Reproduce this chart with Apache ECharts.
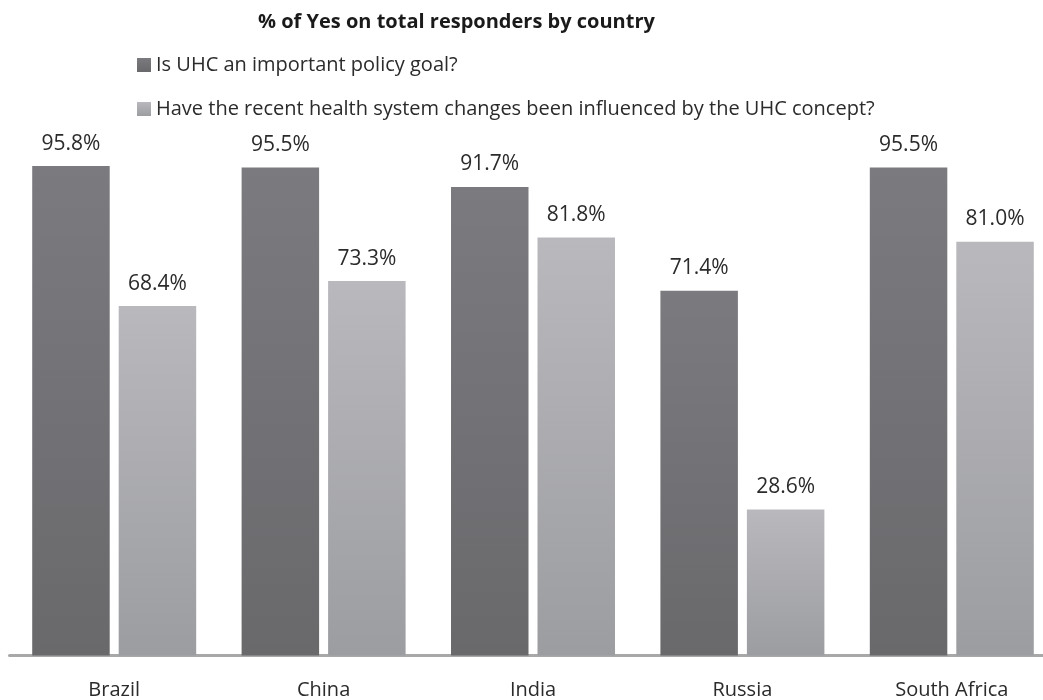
<!DOCTYPE html>
<html>
<head>
<meta charset="utf-8">
<script src="https://cdn.jsdelivr.net/npm/echarts@6/dist/echarts.min.js"></script>
<style>
html,body{margin:0;padding:0;background:#fff;}
#chart{width:1043px;height:700px;}
</style>
</head>
<body>
<div id="chart"></div>
<script>
const titleText = '% of Yes on total responders by country';
const categories = ['Brazil', 'China', 'India', 'Russia', 'South Africa'];
const seriesNames = ['Is UHC an important policy goal?', 'Have the recent health system changes been influenced by the UHC concept?'];
const policyGoal = [95.8, 95.5, 91.7, 71.4, 95.5];
const influenced = [68.4, 73.3, 81.8, 28.6, 81.0];

const FONT = '"Open Sans", sans-serif';
const TXT = '#2b2b2b';

function grad(top, bottom) {
  return new echarts.graphic.LinearGradient(0, 0, 0, 1, [
    { offset: 0, color: top }, { offset: 1, color: bottom }
  ]);
}

const labelCfg = {
  show: true, position: 'top', distance: 12,
  fontFamily: FONT, fontSize: 21, color: TXT,
  formatter: p => p.value.toFixed(1) + '%'
};

const chart = echarts.init(document.getElementById('chart'), null, { renderer: 'canvas' });
chart.setOption({
  animation: false,
  backgroundColor: '#ffffff',
  title: {
    text: titleText, left: 258, top: 12, padding: 0,
    textStyle: { fontFamily: FONT, fontSize: 20, fontWeight: 'bold', color: '#1a1a1a' }
  },
  legend: {
    orient: 'vertical', left: 137, top: 55, itemGap: 24, padding: 0,
    itemWidth: 14, itemHeight: 14, icon: 'rect',
    textStyle: { fontFamily: FONT, fontSize: 20, color: TXT },
    data: seriesNames
  },
  grid: { left: 9.5, width: 1047, top: 144.6, height: 511, containLabel: false, outerBoundsMode: 'none' },
  xAxis: {
    type: 'category', data: categories,
    axisLine: { show: true, lineStyle: { color: '#a8a8a8', width: 3 } },
    axisTick: { show: false },
    axisLabel: { fontFamily: FONT, fontSize: 20, color: TXT, margin: 25 }
  },
  yAxis: { type: 'value', min: 0, max: 100, show: false, splitLine: { show: false } },
  series: [
    {
      name: seriesNames[0], type: 'bar', data: policyGoal,
      barWidth: 77.5, barGap: '11.6%',
      itemStyle: { color: grad('#7b7b7f', '#69696c') },
      label: labelCfg
    },
    {
      name: seriesNames[1], type: 'bar', data: influenced,
      barWidth: 77.5,
      itemStyle: { color: grad('#b9b9bd', '#9c9da0') },
      label: labelCfg
    }
  ]
});
</script>
</body>
</html>
